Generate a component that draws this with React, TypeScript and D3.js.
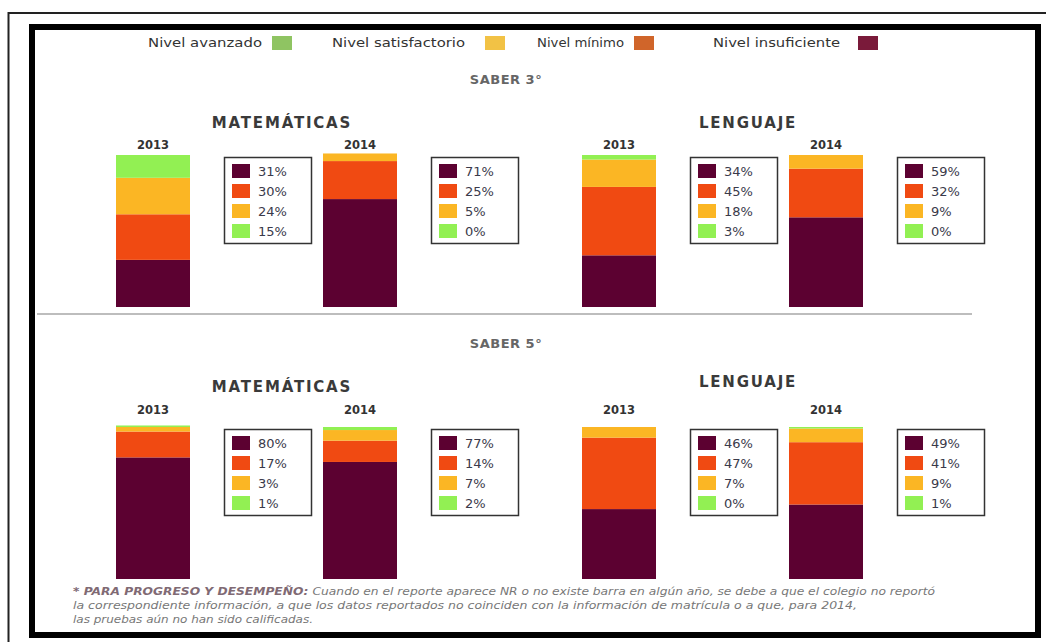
import React from 'react';
import * as d3 from 'd3';

// Levels, bottom to top in each bar
const levels = ['Nivel insuficiente', 'Nivel mínimo', 'Nivel satisfactorio', 'Nivel avanzado'];
const legendOrder = ['Nivel avanzado', 'Nivel satisfactorio', 'Nivel mínimo', 'Nivel insuficiente'];
const grades = ['SABER 3°', 'SABER 5°'];
const subjects = ['MATEMÁTICAS', 'LENGUAJE'];
const years = ['2013', '2014'];

// [2013, 2014], each as [insuficiente, mínimo, satisfactorio, avanzado]
const saber3Matematicas = [[31, 30, 24, 15], [71, 25, 5, 0]];
const saber3Lenguaje = [[34, 45, 18, 3], [59, 32, 9, 0]];
const saber5Matematicas = [[80, 17, 3, 1], [77, 14, 7, 2]];
const saber5Lenguaje = [[46, 47, 7, 0], [49, 41, 9, 1]];

const footnote = [
    'Cuando en el reporte aparece NR o no existe barra en algún año, se debe a que el colegio no reportó',
    'la correspondiente información, a que los datos reportados no coinciden con la información de matrícula o a que, para 2014,',
    'las pruebas aún no han sido calificadas.'
];

const barColors = ['#5c0131', '#f04a12', '#fbb624', '#92f053'];
const legendColors: Record<string, string> = {
    'Nivel avanzado': '#8fc462',
    'Nivel satisfactorio': '#f2c245',
    'Nivel mínimo': '#d0652a',
    'Nivel insuficiente': '#7a1a3a'
};

const panels = [
    [saber3Matematicas, saber3Lenguaje],
    [saber5Matematicas, saber5Lenguaje]
];

const W = 1046;
const H = 642;
const BAR_W = 74;
const BAR_H = 152;

export default function App() {
    const subjectX = d3.scalePoint<string>().domain(subjects).range([116, 582]);
    const yearX = d3.scalePoint<string>().domain(years).range([0, 207]);
    const rowBottom = d3.scalePoint<string>().domain(grades).range([307, 579]);
    const h = d3.scaleLinear().domain([0, 100]).range([0, BAR_H]);

    // legend layout
    const legendTextX = [148, 332, 537, 713];
    const legendTextW = [114, 133, 87, 127];
    const legendSwatch = [272, 485, 634, 858];

    // title layout per row
    const gradeY = [84, 348];
    const subjY = [[128, 128], [392, 387]];
    const yearY = [149, 414];

    const font = '"DejaVu Sans", Verdana, sans-serif';

    return (
        <div style={{ position: 'absolute', left: 0, top: 0 }}>
            <svg width={W} height={H} viewBox={`0 0 ${W} ${H}`} style={{ display: 'block', background: '#fff' }}>
                {/* frames */}
                <path d={`M8.5,${H} V13 H${W}`} fill="none" stroke="#222" strokeWidth={2} />
                <rect x={32} y={27} width={1006} height={608} fill="#fff" stroke="#000" strokeWidth={6} />
                <line x1={37} x2={972} y1={314} y2={314} stroke="#bdbdbd" strokeWidth={2} />

                {/* top legend */}
                {legendOrder.map((name, i) => (
                    <g key={name}>
                        <text x={legendTextX[i]} y={47} fontFamily={font} fontSize={12} fill="#333"
                            textLength={legendTextW[i]} lengthAdjust="spacingAndGlyphs">{name}</text>
                        <rect x={legendSwatch[i]} y={36} width={20} height={14} fill={legendColors[name]} />
                    </g>
                ))}

                {grades.map((grade, gi) => {
                    const bottom = rowBottom(grade)!;
                    const top = bottom - BAR_H;
                    return (
                        <g key={grade}>
                            <text x={506} y={gradeY[gi]} textAnchor="middle" fontFamily={font} fontSize={13}
                                fontWeight="bold" fill="#666" letterSpacing={0.5}>{grade}</text>
                            {subjects.map((subj, si) => {
                                const px = subjectX(subj)!;
                                const data = panels[gi][si];
                                return (
                                    <g key={subj}>
                                        <text x={px + 166} y={subjY[gi][si]} textAnchor="middle"
                                            fontFamily={font} fontSize={15} fontWeight="bold" fill="#3a3a3a"
                                            letterSpacing={1.8}>{subj}</text>
                                        {years.map((yr, yi) => {
                                            const bx = px + yearX(yr)!;
                                            const vals = data[yi];
                                            const cum = [0, ...d3.cumsum(vals)];
                                            const boxX = bx + 108;
                                            const boxY = top + 2;
                                            return (
                                                <g key={yr}>
                                                    <text x={bx + BAR_W / 2} y={yearY[gi]} textAnchor="middle"
                                                        fontFamily={font} fontSize={11.5} fontWeight="bold" fill="#333">{yr}</text>
                                                    {vals.map((v, li) => (
                                                        <rect key={li} x={bx} width={BAR_W}
                                                            y={bottom - h(cum[li + 1])} height={h(v)}
                                                            fill={barColors[li]} />
                                                    ))}
                                                    <rect x={boxX + 0.5} y={boxY + 0.5} width={87} height={86}
                                                        fill="#fff" stroke="#333" strokeWidth={1.5} />
                                                    {vals.map((v, li) => (
                                                        <g key={li}>
                                                            <rect x={boxX + 8} y={boxY + 7 + li * 20} width={18} height={14}
                                                                fill={barColors[li]} />
                                                            <text x={boxX + 34} y={boxY + 19 + li * 20} fontFamily={font}
                                                                fontSize={13} fill="#3a3a4a">{`${v}%`}</text>
                                                        </g>
                                                    ))}
                                                </g>
                                            );
                                        })}
                                    </g>
                                );
                            })}
                        </g>
                    );
                })}

                {/* footnote */}
                <text x={73} y={595} fontFamily={font} fontSize={10} fontStyle="italic" fill="#777"
                    textLength={862} lengthAdjust="spacingAndGlyphs">
                    <tspan fontWeight="bold" fill="#806a74">* PARA PROGRESO Y DESEMPEÑO: </tspan>{footnote[0]}
                </text>
                <text x={73} y={609} fontFamily={font} fontSize={10} fontStyle="italic" fill="#777"
                    textLength={784} lengthAdjust="spacingAndGlyphs">{footnote[1]}</text>
                <text x={73} y={623} fontFamily={font} fontSize={10} fontStyle="italic" fill="#777"
                    textLength={240} lengthAdjust="spacingAndGlyphs">{footnote[2]}</text>
            </svg>
        </div>
    );
}
